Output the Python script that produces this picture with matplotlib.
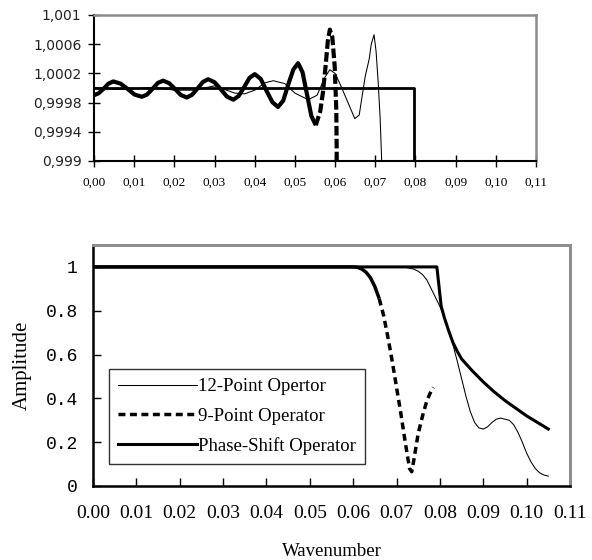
import matplotlib
matplotlib.use("Agg")
import matplotlib.pyplot as plt

# ---------------- data: top (zoomed) chart ----------------
top_x12 = [0.000, 0.005, 0.010, 0.015, 0.020, 0.025, 0.030, 0.035, 0.0375, 0.040,
           0.0425, 0.0446, 0.0475, 0.050, 0.0533, 0.0555, 0.0575, 0.0587, 0.0600,
           0.0612, 0.0629, 0.0649, 0.0660, 0.0675, 0.0685, 0.0690, 0.0697, 0.0702,
           0.0707, 0.0712, 0.0716, 0.0720]
top_y12 = [1.00001, 0.99998, 0.99999, 1.00001, 0.99997, 0.99997, 1.00003, 0.99993, 0.99992, 0.99997,
           1.00007, 1.00010, 1.00006, 0.99993, 0.99984, 0.99990, 1.00015, 1.00025, 1.00020,
           1.00006, 0.99984, 0.99958, 0.99963, 1.00016, 1.00040, 1.00060, 1.00073, 1.00050,
           1.00010, 0.99960, 0.99900, 0.99850]

top_x9 = [0.0000, 0.0012, 0.0024, 0.0036, 0.0048, 0.0066, 0.0084, 0.0101, 0.0119,
          0.0132, 0.0146, 0.0159, 0.0172, 0.0187, 0.0202, 0.0216, 0.0231,
          0.0244, 0.0258, 0.0271, 0.0284, 0.0300, 0.0316, 0.0331, 0.0347,
          0.0360, 0.0374, 0.0387, 0.0400, 0.0415, 0.0429, 0.0444, 0.0458,
          0.0471, 0.0483, 0.0496, 0.0508, 0.0519, 0.0530, 0.0541, 0.0552,
          0.0563, 0.0570, 0.0576, 0.0582, 0.0587, 0.0593, 0.0599, 0.0603, 0.0605]
top_y9 = [0.99990, 0.99993, 0.99999, 1.00006, 1.00009, 1.00006, 0.999985, 0.99991, 0.99988,
          0.99991, 0.99999, 1.00007, 1.00010, 1.000066, 0.999985, 0.999904, 0.99987,
          0.999907, 0.999995, 1.000083, 1.00012, 1.000079, 0.99998, 0.999881, 0.99984,
          0.999891, 1.000015, 1.000139, 1.00019, 1.000124, 0.999965, 0.999806, 0.99974,
          0.999828, 1.00004, 1.000252, 1.00034, 1.000215, 0.999915, 0.999615, 0.99949,
          0.99968, 0.99995, 1.00028, 1.00065, 1.00080, 1.00070, 1.00030, 0.99970, 0.99850]
top_split9 = 40   # index of the trough where the series turns dashed

top_xps = [0.0, 0.0797, 0.0797]
top_yps = [1.0, 1.0, 0.998]

top_xticks = [0.00, 0.01, 0.02, 0.03, 0.04, 0.05, 0.06, 0.07, 0.08, 0.09, 0.10, 0.11]
top_xticklabels = ["0,00", "0,01", "0,02", "0,03", "0,04", "0,05", "0,06", "0,07",
                   "0,08", "0,09", "0,10", "0,11"]
top_yticks = [0.999, 0.9994, 0.9998, 1.0002, 1.0006, 1.001]
top_yticklabels = ["0,999", "0,9994", "0,9998", "1,0002", "1,0006", "1,001"]

# ---------------- data: bottom chart ----------------
x12 = [0.000, 0.010, 0.020, 0.030, 0.040, 0.050, 0.060, 0.070, 0.072, 0.074, 0.075,
       0.076, 0.077, 0.078, 0.079, 0.080, 0.081, 0.082, 0.083, 0.084, 0.085, 0.086,
       0.087, 0.088, 0.089, 0.090, 0.091, 0.092, 0.093, 0.094, 0.095, 0.096, 0.097,
       0.098, 0.099, 0.100, 0.101, 0.102, 0.103, 0.104, 0.105]
y12 = [1, 1, 1, 1, 1, 1, 1, 1, 0.998, 0.99, 0.98,
       0.965, 0.94, 0.90, 0.86, 0.82, 0.77, 0.71, 0.645, 0.57, 0.49, 0.41,
       0.34, 0.29, 0.265, 0.26, 0.27, 0.29, 0.305, 0.31, 0.305, 0.30, 0.28,
       0.245, 0.20, 0.15, 0.11, 0.08, 0.06, 0.05, 0.045]

x9 = [0.000, 0.010, 0.020, 0.030, 0.040, 0.050, 0.060, 0.061, 0.062, 0.063, 0.064,
      0.065, 0.066, 0.067, 0.068, 0.069, 0.070, 0.071, 0.072, 0.073, 0.0735, 0.074,
      0.075, 0.076, 0.077, 0.078, 0.0785]
y9 = [1, 1, 1, 1, 1, 1, 1, 0.998, 0.99, 0.975, 0.95,
      0.91, 0.855, 0.78, 0.68, 0.57, 0.45, 0.33, 0.20, 0.08, 0.065, 0.12,
      0.24, 0.32, 0.39, 0.435, 0.45]
split9 = 12   # index where the drop turns visibly dashed

xps = [0.0, 0.01, 0.02, 0.03, 0.04, 0.05, 0.06, 0.07, 0.0793, 0.0803, 0.081, 0.082,
       0.083, 0.084, 0.085, 0.0875, 0.09, 0.0925, 0.095, 0.0975, 0.1, 0.1025, 0.105]
yps = [1, 1, 1, 1, 1, 1, 1, 1, 1, 0.82, 0.77, 0.71,
       0.655, 0.615, 0.58, 0.525, 0.475, 0.43, 0.39, 0.355, 0.32, 0.29, 0.26]

xticks = [0.00, 0.01, 0.02, 0.03, 0.04, 0.05, 0.06, 0.07, 0.08, 0.09, 0.10, 0.11]
xticklabels = ["0.00", "0.01", "0.02", "0.03", "0.04", "0.05", "0.06", "0.07",
               "0.08", "0.09", "0.10", "0.11"]
yticks = [0, 0.2, 0.4, 0.6, 0.8, 1.0]
yticklabels = ["0", "0.2", "0.4", "0.6", "0.8", "1"]

labels = ["12-Point Opertor", "9-Point Operator", "Phase-Shift Operator"]

SERIF = "Liberation Serif"
MONO = "Liberation Mono"
SANS = "DejaVu Sans"
GRAY = "#8c8c8c"

fig = plt.figure(figsize=(5.92, 5.6), dpi=100)

def style_spines(ax, lw=1.5):
    for s in ("top", "right"):
        ax.spines[s].set_color(GRAY)
        ax.spines[s].set_linewidth(lw + 0.3)
    for s in ("left", "bottom"):
        ax.spines[s].set_color("black")
        ax.spines[s].set_linewidth(lw)

# ---------------- top chart ----------------
ax1 = fig.add_axes([94 / 592, 1 - 161 / 560, (536 - 94) / 592, (161 - 15) / 560])
ax1.plot(top_x12, top_y12, color="black", lw=0.75, zorder=2)
ax1.plot(top_x9[:top_split9 + 1], top_y9[:top_split9 + 1], color="black", lw=3.0,
         solid_capstyle="butt", zorder=3)
ax1.plot(top_x9[top_split9:], top_y9[top_split9:], color="black", lw=3.0,
         linestyle=(0, (2.3, 0.8)), dash_capstyle="butt", zorder=3)
ax1.plot(top_xps, top_yps, color="black", lw=2.0, zorder=4)
ax1.set_xlim(0, 0.11)
ax1.set_ylim(0.999, 1.001)
ax1.set_xticks(top_xticks)
ax1.set_xticklabels(top_xticklabels, fontfamily=SERIF, fontsize=9.5)
ax1.set_yticks(top_yticks)
ax1.set_yticklabels(top_yticklabels, fontfamily=SANS, fontsize=10, color="#222222")
ax1.tick_params(axis="both", direction="inout", length=8, width=1)
ax1.tick_params(axis="x", pad=7)
ax1.tick_params(axis="y", pad=5)
style_spines(ax1)

# ---------------- bottom chart ----------------
ax2 = fig.add_axes([93 / 592, 1 - 486 / 560, (570 - 93) / 592, (486 - 245) / 560])
h12, = ax2.plot(x12, y12, color="black", lw=0.75, zorder=2, label=labels[0])
ax2.plot(x9[:split9 + 1], y9[:split9 + 1], color="black", lw=2.5,
         solid_capstyle="butt", zorder=3)
h9, = ax2.plot(x9[split9:], y9[split9:], color="black", lw=2.5,
               linestyle=(0, (2.0, 1.3)), dash_capstyle="butt", zorder=3, label=labels[1])
hps, = ax2.plot(xps, yps, color="black", lw=2.2, zorder=4, label=labels[2])
ax2.set_xlim(0, 0.11)
ax2.set_ylim(0, 1.1)
ax2.set_xticks(xticks)
ax2.set_xticklabels(xticklabels, fontfamily=SERIF, fontsize=14)
ax2.set_yticks(yticks)
ax2.set_yticklabels(yticklabels, fontfamily=MONO, fontsize=13)
ax2.tick_params(axis="both", direction="in", length=6, width=1)
ax2.tick_params(axis="x", pad=14)
ax2.tick_params(axis="y", pad=11)
style_spines(ax2, lw=1.8)

ax2.set_ylabel("Amplitude", fontfamily=SERIF, fontsize=15)
ax2.yaxis.set_label_coords(-0.128, 0.5)
ax2.set_xlabel("Wavenumber", fontfamily=SERIF, fontsize=13.5)
ax2.xaxis.set_label_coords(0.5, -0.235)

leg = ax2.legend(handles=[h12, h9, hps], labels=labels, loc="lower left",
                 bbox_to_anchor=((109 - 93) / 477, (486 - 464) / 241),
                 borderaxespad=0, prop={"family": SERIF, "size": 13.5},
                 handlelength=4.2, handletextpad=0.05, labelspacing=0.65,
                 borderpad=0.5, fancybox=False, frameon=True)
leg.get_frame().set_edgecolor("black")
leg.get_frame().set_linewidth(1.0)

fig.savefig("out.png", dpi=100, facecolor="white")
